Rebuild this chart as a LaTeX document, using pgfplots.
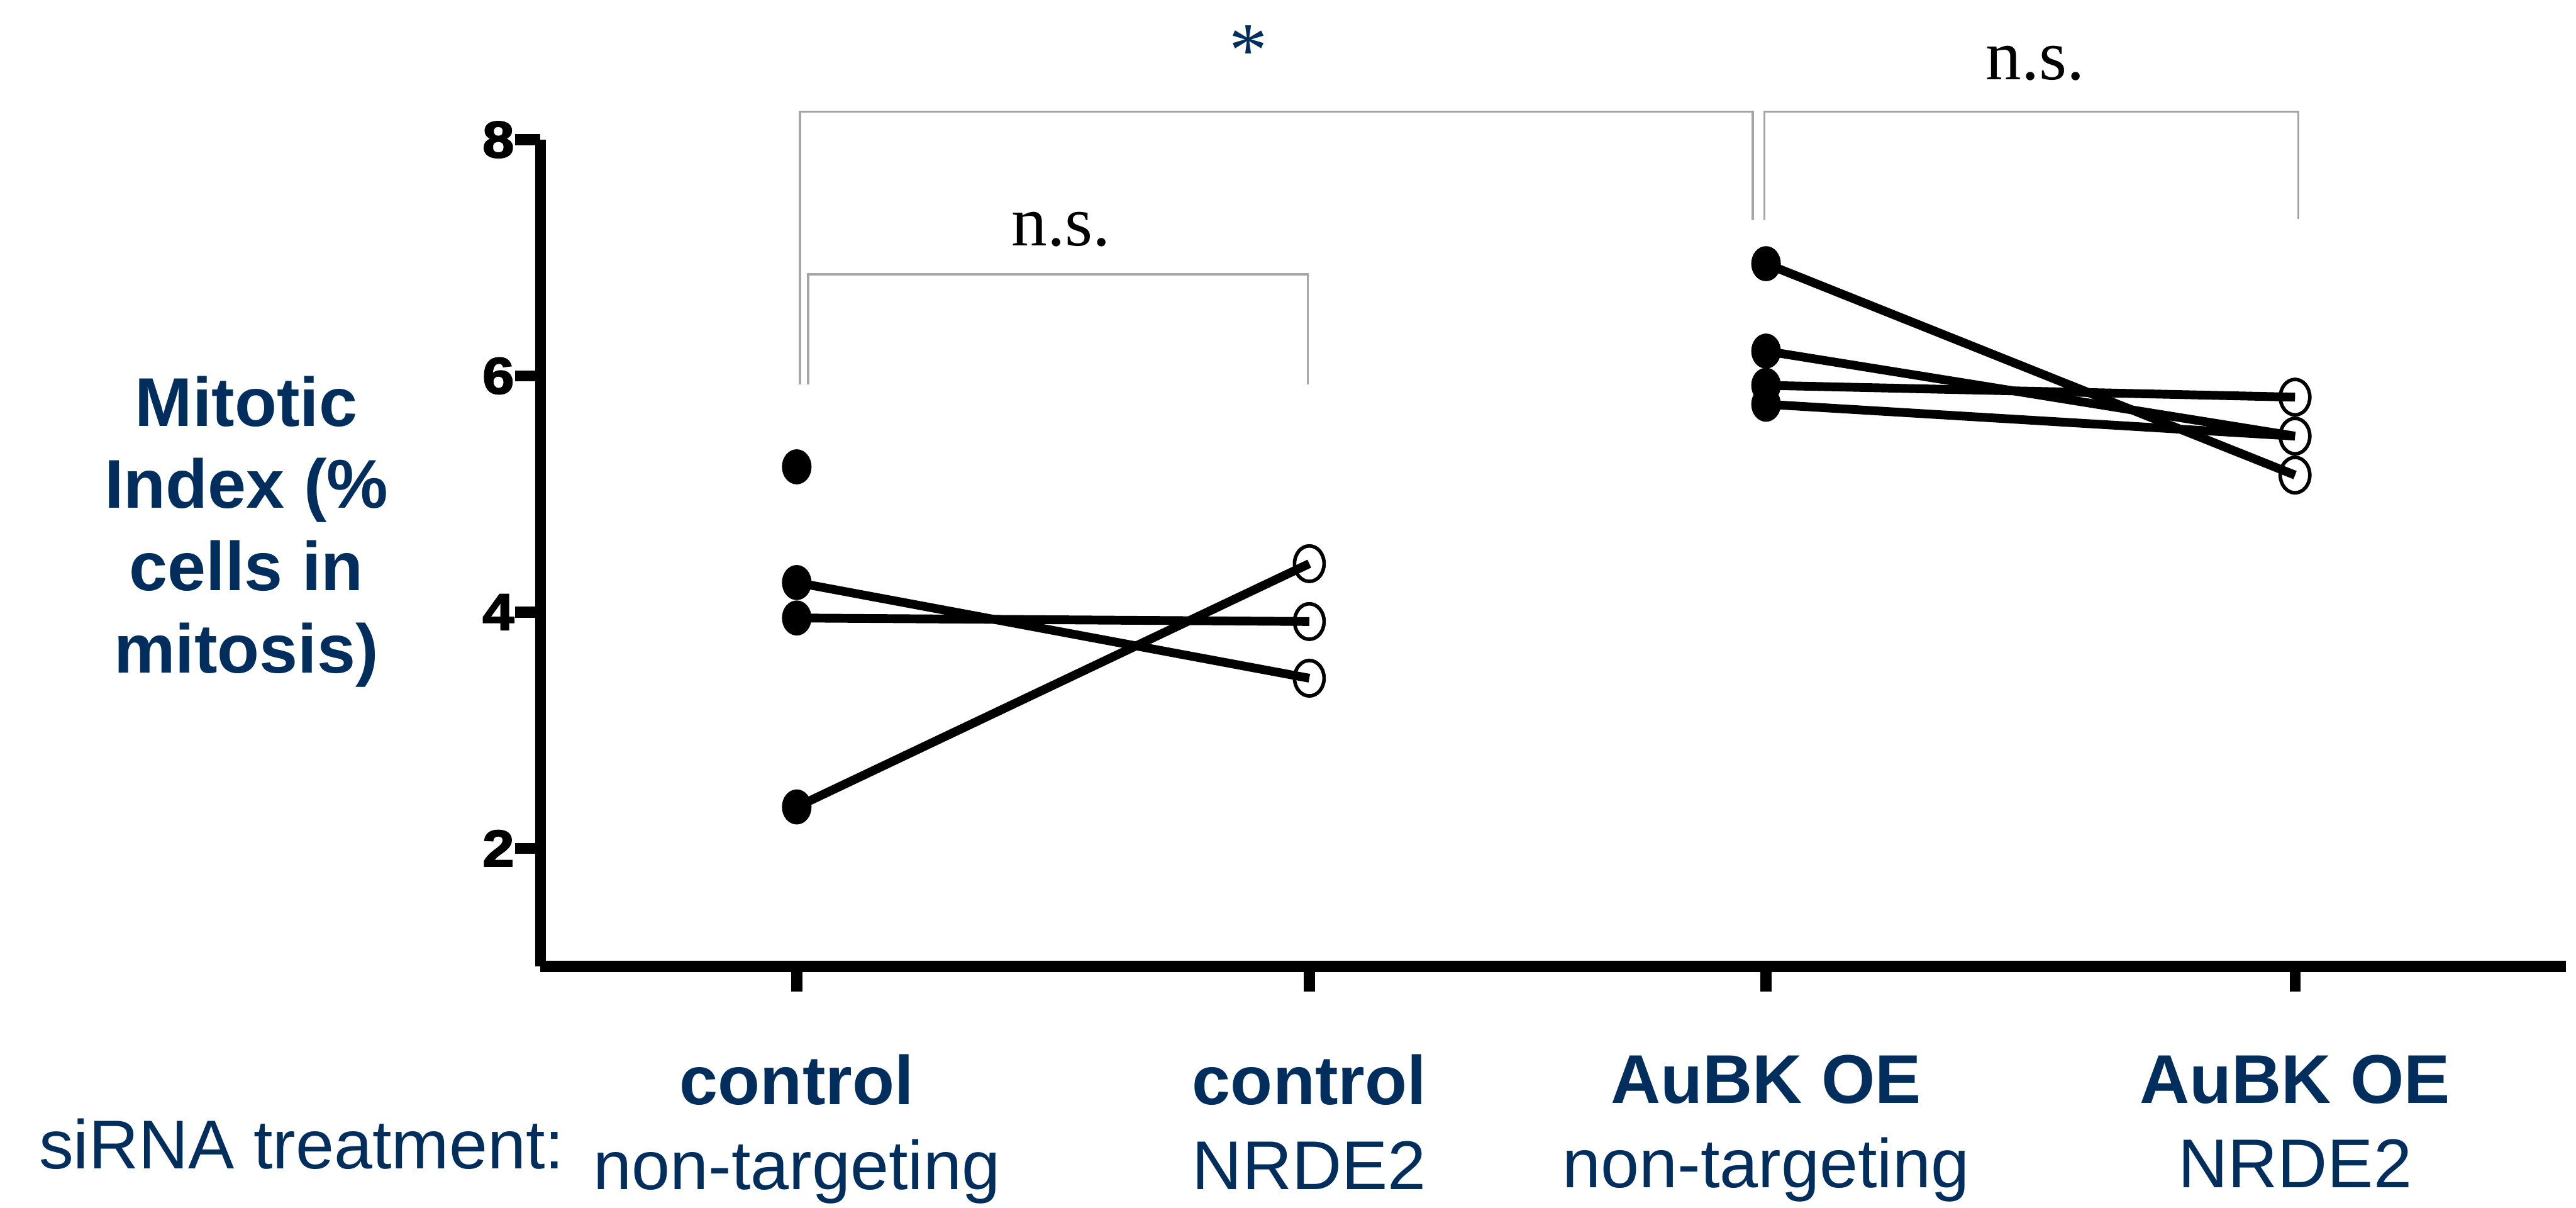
\documentclass[border=0pt]{standalone}
\usepackage{pgfplots}
\pgfplotsset{compat=1.18}
\usepackage{fontspec}
\setmainfont{Liberation Sans}
\newfontfamily\seriffont{Liberation Serif}
\newfontfamily\tickfont{Liberation Sans Bold}[FakeBold=2.5]
\definecolor{navy}{RGB}{1,46,93}
\begin{document}
\begin{tikzpicture}
\begin{axis}[
  scale only axis, width=369.9pt, height=150.9pt,
  xmin=329, xmax=1562, ymin=1, ymax=8,
  axis x line*=bottom, axis y line*=left,
  axis line style={line width=2pt, black},
  tick align=outside, major tick length=4.6pt,
  every tick/.style={line width=2pt, black},
  xtick={485,797,1075,1397}, ytick={2,4,6,8},
  xticklabels={{\textbf{control}\\non-targeting},{\textbf{control}\\NRDE2},{\textbf{AuBK OE}\\non-targeting},{\textbf{AuBK OE}\\NRDE2}},
  xticklabel style={align=center, font=\fontsize{12.6}{15.4}\selectfont, text=navy, anchor=north, yshift=-8pt},
  yticklabel style={font=\tickfont\fontsize{9.4}{10}\selectfont, inner xsep=0pt, xscale=1.1},
  /pgf/number format/assume math mode=true,
  ylabel={Mitotic\\Index (\%\\cells in\\mitosis)},
  ylabel style={rotate=-90, align=center, font=\bfseries\fontsize{12.6}{15}\selectfont, text=navy, at={(rel axis cs:-0.1452,0.526)}, anchor=center},
  clip=false,
]
% paired lines
\addplot[no marks, line width=1.6pt] coordinates {(485,4.25) (797,3.44)};
\addplot[no marks, line width=1.6pt] coordinates {(485,3.95) (797,3.92)};
\addplot[no marks, line width=1.6pt] coordinates {(485,2.35) (797,4.41)};
\addplot[no marks, line width=1.6pt] coordinates {(1075,6.95) (1397,5.16)};
\addplot[no marks, line width=1.6pt] coordinates {(1075,6.21) (1397,5.49)};
\addplot[no marks, line width=1.6pt] coordinates {(1075,5.92) (1397,5.82)};
\addplot[no marks, line width=1.6pt] coordinates {(1075,5.76) (1397,5.49)};
% filled markers (non-targeting)
\addplot[only marks, mark=*, mark size=2.5pt, mark options={yscale=1.2, fill=black, draw=black}] coordinates {
  (485,5.23) (485,4.25) (485,3.95) (485,2.35)
  (1075,6.95) (1075,6.21) (1075,5.92) (1075,5.76)};
% open markers (NRDE2)
\addplot[only marks, mark=o, mark size=2.7pt, mark options={yscale=1.2, line width=0.65pt, draw=black}] coordinates {
  (797,4.41) (797,3.92) (797,3.44)
  (1397,5.82) (1397,5.49) (1397,5.16)};
% significance brackets
\draw[gray!70, line width=0.4pt] (axis cs:487,5.93) -- (axis cs:487,8.236) -- (axis cs:1067,8.236) -- (axis cs:1067,7.32);
\draw[gray!70, line width=0.4pt] (axis cs:1074,7.32) -- (axis cs:1074,8.236) -- (axis cs:1399,8.236) -- (axis cs:1399,7.33);
\draw[gray!70, line width=0.4pt] (axis cs:492,5.93) -- (axis cs:492,6.86) -- (axis cs:796,6.86) -- (axis cs:796,5.93);
\node[font=\seriffont\fontsize{13}{15}\selectfont, anchor=base] at (axis cs:646,7.10) {n.s.};
\node[font=\seriffont\fontsize{13}{15}\selectfont, anchor=base] at (axis cs:1239,8.51) {n.s.};
\node[font=\seriffont\fontsize{14}{15}\selectfont, anchor=base, text=navy] at (axis cs:760,8.54) {*};
\node[anchor=base west, font=\fontsize{12.6}{15}\selectfont, text=navy] at (rel axis cs:-0.2571,-0.2450) {siRNA treatment:};
\coordinate (bbA) at (rel axis cs:-0.2668,-0.2922);
\coordinate (bbB) at (rel axis cs:1.0049,1.169);
\end{axis}
\pgfresetboundingbox
\useasboundingbox (bbA) rectangle (bbB);
\end{tikzpicture}
\end{document}
